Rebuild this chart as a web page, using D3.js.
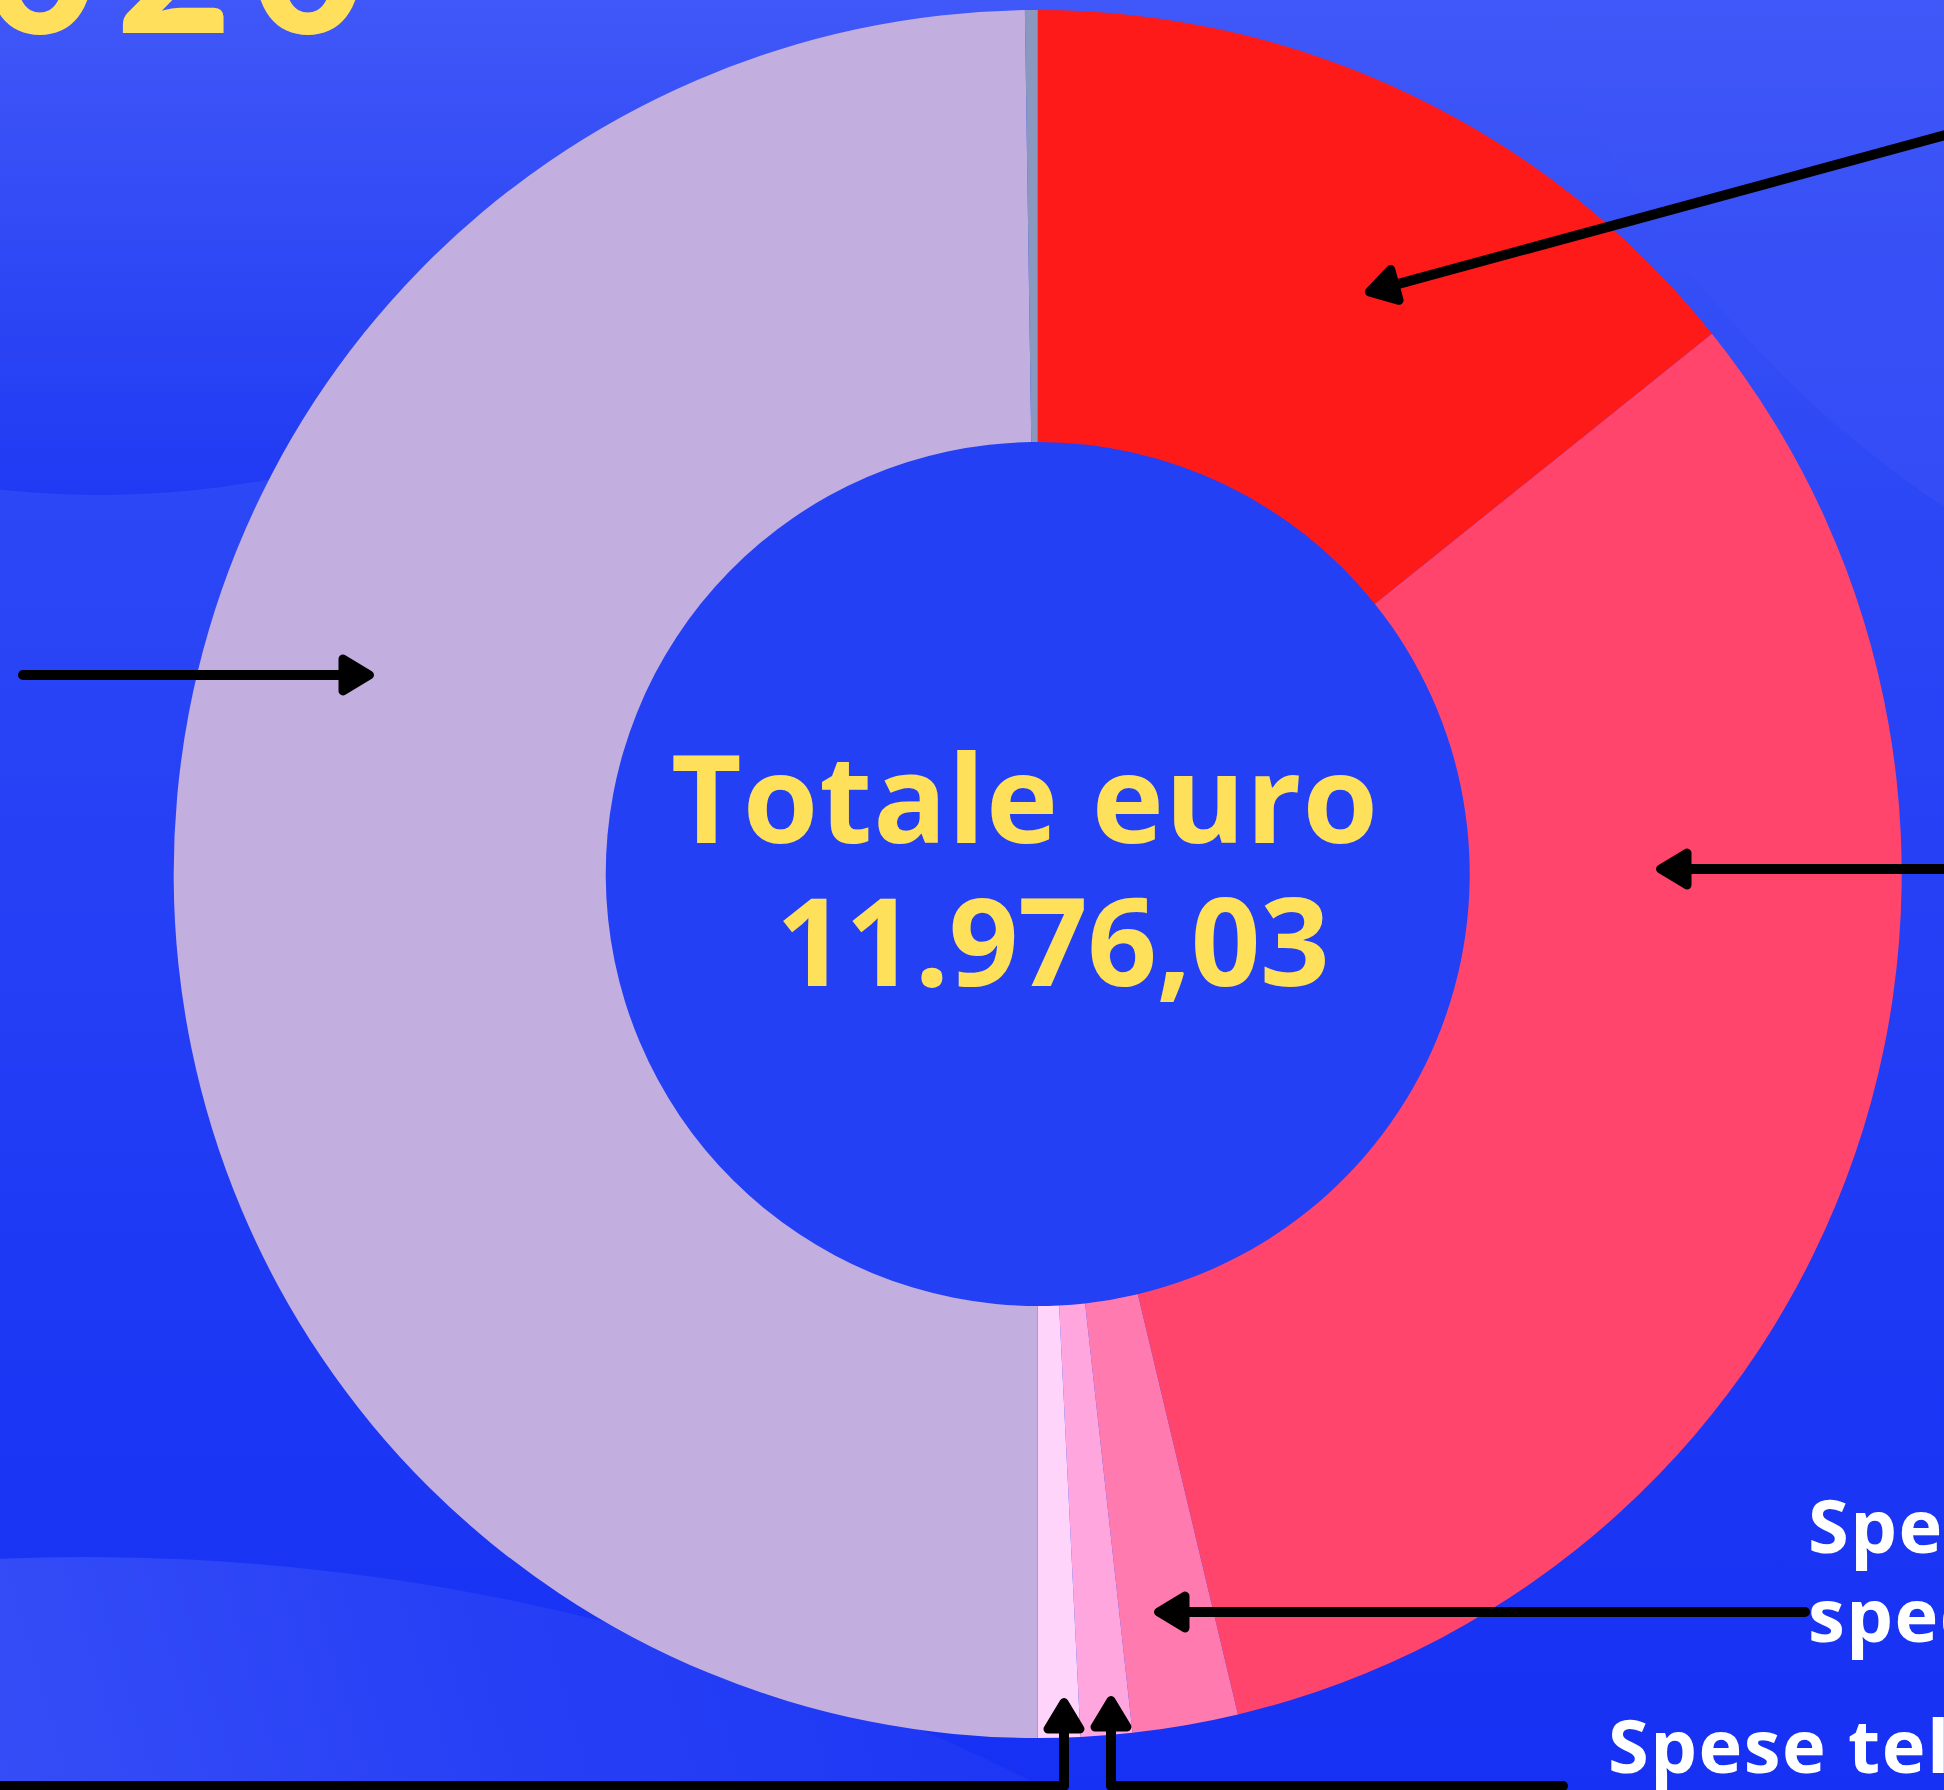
<!DOCTYPE html>
<html>
<head>
<meta charset="utf-8">
<script src="https://cdn.jsdelivr.net/npm/d3@7"></script>
<style>
  html, body { margin: 0; padding: 0; overflow: hidden; background: #2540F5; }
</style>
</head>
<body>
<div id="chart"></div>
<script>
// --- data (euro) ---
const categories = ["Voce rossa", "Voce corallo", "Spese di spedizione", "Spese telefoniche", "Voce rosa chiaro", "Voce lilla", "Voce grigia"];
const values = [1706.60, 3835.60, 236.20, 115.10, 94.50, 5959.73, 28.30];
const sliceColors = ["#FF1A1A", "#FF456C", "#FF7AAE", "#FFA6DE", "#FFD4FA", "#C2AFE0", "#8A98C0"];
const totalText = ["Totale euro", "11.976,03"];
const yearText = "2020";

const width = 1944, height = 1790;
const cx = 1037.7, cy = 874;
const rOuter = 864, rInner = 432;

const svg = d3.select("#chart").append("svg")
    .attr("width", width)
    .attr("height", height)
    .style("display", "block");

const defs = svg.append("defs");

function linGrad(id, x1, y1, x2, y2, stops) {
    const g = defs.append("linearGradient")
        .attr("id", id)
        .attr("gradientUnits", "userSpaceOnUse")
        .attr("x1", x1).attr("y1", y1).attr("x2", x2).attr("y2", y2);
    stops.forEach(s => g.append("stop").attr("offset", s[0]).attr("stop-color", s[1]));
}

linGrad("bg", 0, 0, 0, height, [[0, "#4058F8"], [0.28, "#2C47F5"], [0.5, "#2540F5"], [0.8, "#1B36F4"], [1, "#1631F3"]]);
linGrad("blobTL", 0, 0, 0, 495, [[0, "#4058F8"], [1, "#1F3AF3"]]);
linGrad("blobTR", 0, 0, 0, 700, [[0, "#4058F8"], [0.36, "#3750F6"], [1, "#3049F6"]]);
linGrad("blobBL", 0, 1790, 1000, 1500, [[0, "#354DF7"], [0.5, "#263FF5"], [1, "#1D36F4"]]);

// background and soft shapes
svg.append("rect").attr("width", width).attr("height", height).attr("fill", "url(#bg)");
svg.append("circle").attr("cx", 100).attr("cy", -435).attr("r", 930).attr("fill", "url(#blobTL)");
svg.append("circle").attr("cx", 2535).attr("cy", -384).attr("r", 1069).attr("fill", "url(#blobTR)");
svg.append("circle").attr("cx", 86).attr("cy", 3662).attr("r", 2105).attr("fill", "url(#blobBL)");

// year title, mostly above the frame
svg.append("text")
    .attr("x", 384)
    .attr("y", 33)
    .attr("text-anchor", "end")
    .attr("fill", "#FFDF5C")
    .style("font-family", "Lato, 'Open Sans', sans-serif")
    .style("font-weight", 900)
    .style("font-size", "200px")
    .style("letter-spacing", "18px")
    .text(yearText);

// --- donut ---
const color = d3.scaleOrdinal().domain(categories).range(sliceColors);
const pie = d3.pie().sort(null).value(d => d.value).startAngle(0).endAngle(2 * Math.PI);
const arc = d3.arc().innerRadius(rInner).outerRadius(rOuter);
const slices = pie(categories.map((c, i) => ({ name: c, value: values[i] })));

const g = svg.append("g").attr("transform", `translate(${cx},${cy})`);
g.append("circle").attr("r", rInner + 1).attr("fill", "#2440F5");
g.selectAll("path.slice")
    .data(slices)
    .enter()
    .append("path")
    .attr("class", "slice")
    .attr("d", arc)
    .attr("fill", d => color(d.data.name));

// centre total
const centre = svg.append("g")
    .attr("fill", "#FFE05A")
    .style("font-family", "'Open Sans', Lato, sans-serif")
    .style("font-weight", 700)
    .style("font-size", "122px");
centre.append("text").attr("x", 671).attr("y", 843).style("letter-spacing", "1px").text(totalText[0]);
centre.append("text").attr("x", 776).attr("y", 986)
    .style("letter-spacing", "-0.5px")
    .text(totalText[1]);

// --- callout arrows ---
const callouts = [
    { pts: [[1975, 127], [1365, 293]] },
    { pts: [[23, 675], [374, 675]] },
    { pts: [[1975, 869], [1656, 869]] },
    { pts: [[1805, 1612], [1154, 1612]] },
    { pts: [[-20, 1786], [1064, 1786], [1064, 1698]] },
    { pts: [[1563, 1786], [1111, 1786], [1111, 1696]] }
];

const headLen = 31, headHalf = 16, headStroke = 9;
const arrows = svg.append("g");
callouts.forEach(c => {
    const p = c.pts;
    const tip = p[p.length - 1], prev = p[p.length - 2];
    const ang = Math.atan2(tip[1] - prev[1], tip[0] - prev[0]);
    const ux = Math.cos(ang), uy = Math.sin(ang);
    const t = [tip[0] - ux * headStroke / 2, tip[1] - uy * headStroke / 2];
    const back = [t[0] - ux * (headLen - headStroke / 2), t[1] - uy * (headLen - headStroke / 2)];
    const linePts = p.slice(0, -1).concat([[back[0] + ux * 2, back[1] + uy * 2]]);

    arrows.append("path")
        .attr("d", d3.line()(linePts))
        .attr("fill", "none")
        .attr("stroke", "#000")
        .attr("stroke-width", 10)
        .attr("stroke-linecap", "round")
        .attr("stroke-linejoin", "round");

    const nx = -uy, ny = ux;
    const tri = [t, [back[0] + nx * headHalf, back[1] + ny * headHalf], [back[0] - nx * headHalf, back[1] - ny * headHalf]];
    arrows.append("path")
        .attr("d", d3.line()(tri) + "Z")
        .attr("fill", "#000")
        .attr("stroke", "#000")
        .attr("stroke-width", headStroke)
        .attr("stroke-linejoin", "round");
});

// labels on the right (run past the frame)
const labels = svg.append("g")
    .attr("fill", "#FFFFFF")
    .style("font-family", "'Open Sans', Lato, sans-serif")
    .style("font-weight", 700)
    .style("font-size", "74px")
    .style("letter-spacing", "1.5px");
labels.append("text").attr("x", 1808).attr("y", 1553).text("Spese di");
labels.append("text").attr("x", 1808).attr("y", 1642).text("spedizione");
labels.append("text").attr("x", 1608).attr("y", 1773).text(categories[3]);
</script>
</body>
</html>
